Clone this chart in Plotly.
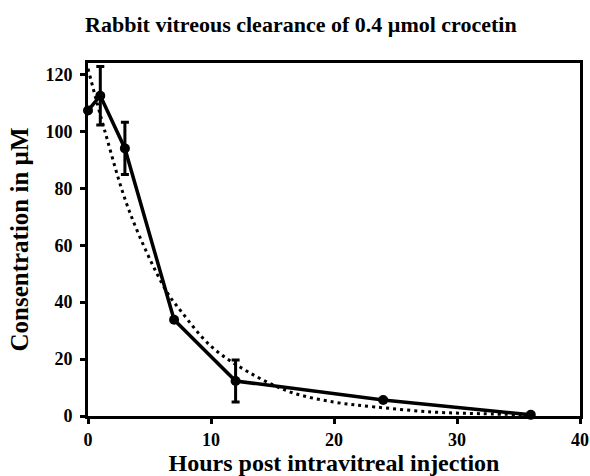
import plotly.graph_objects as go

# Measured data
hours = [0, 1, 3, 7, 12, 24, 36]
conc = [107.3, 112.5, 94.0, 33.8, 12.3, 5.6, 0.4]
conc_err = [None, 10.3, 9.2, None, 7.4, None, None]

# Dotted trend curve
fit_hours = [0, 1.4, 3.4, 6.3, 7.6, 10, 12.9, 16.4, 20, 23.3, 28, 32, 36]
fit_conc = [122, 99.6, 71.5, 44.4, 36.6, 24.5, 15.8, 8.5, 4.9, 3.2, 1.4, 0.8, 0.4]

x_ticks = [0, 10, 20, 30, 40]
y_ticks = [0, 20, 40, 60, 80, 100, 120]

FONT = "Liberation Serif"

fig = go.Figure()
fig.add_trace(go.Scatter(
    x=fit_hours, y=fit_conc, mode="lines",
    line=dict(color="black", width=3, dash="3px,4px", shape="spline"),
    hoverinfo="skip", showlegend=False, cliponaxis=False,
))
fig.add_trace(go.Scatter(
    x=hours, y=conc, mode="lines+markers",
    line=dict(color="black", width=3.5),
    marker=dict(color="black", size=10, symbol="circle"),
    error_y=dict(type="data", array=conc_err, visible=True,
                 color="black", thickness=3, width=4),
    showlegend=False, cliponaxis=False,
))

fig.update_layout(
    width=590, height=476,
    margin=dict(l=88, r=10, t=63, b=60),
    paper_bgcolor="white", plot_bgcolor="white",
    title=dict(text="Rabbit vitreous clearance of 0.4 µmol crocetin",
               x=0.51, xref="container", xanchor="center",
               y=0.95, yref="container", yanchor="middle",
               font=dict(family=FONT, size=22, color="black", weight="bold")),
    font=dict(family=FONT, color="black"),
)
fig.update_xaxes(
    range=[0, 40], tickvals=x_ticks, ticktext=[str(v) for v in x_ticks],
    showline=True, linecolor="black", linewidth=3, mirror=True,
    ticks="outside", ticklen=5, tickwidth=2.5, tickcolor="black",
    showgrid=False, zeroline=False, automargin=False,
    tickfont=dict(family=FONT, size=18, color="black", weight="bold"),
    title=dict(text="Hours post intravitreal injection", standoff=4,
               font=dict(family=FONT, size=24, color="black", weight="bold")),
)
fig.update_yaxes(
    range=[0, 124], tickvals=y_ticks, ticktext=[str(v) for v in y_ticks],
    showline=True, linecolor="black", linewidth=3, mirror=True,
    ticks="outside", ticklen=5, tickwidth=2.5, tickcolor="black",
    showgrid=False, zeroline=False, automargin=False, ticklabelstandoff=4,
    tickfont=dict(family=FONT, size=18, color="black", weight="bold"),
    title=dict(text="Consentration in µM", standoff=10,
               font=dict(family=FONT, size=25, color="black", weight="bold")),
)

fig.write_html(
    "out.html",
    config={"displayModeBar": False},
    post_script="document.body.style.margin='0';document.body.style.overflow='hidden';",
)
